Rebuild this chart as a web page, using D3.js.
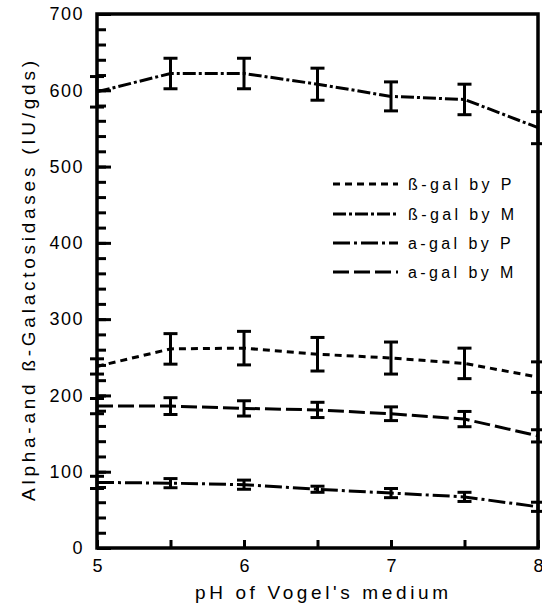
<!DOCTYPE html>
<html>
<head>
<meta charset="utf-8">
<script src="https://cdn.jsdelivr.net/npm/d3@7"></script>
<style>
  body { margin: 0; background: #fff; }
  svg { display: block; font-family: "Liberation Sans", Arial, sans-serif; }
</style>
</head>
<body>
<svg id="chart" width="542" height="603"></svg>
<script>
// ---- data ----
const phValues = [5, 5.5, 6, 6.5, 7, 7.5, 8];

const betaGalM    = [598, 622, 622, 608, 592, 588, 551];
const betaGalMErr = [20, 20, 20, 21, 19, 20, 21];

const betaGalP    = [238, 261, 262, 254, 249, 242, 224];
const betaGalPErr = [10, 20, 22, 22, 21, 20, 20];

const alphaGalM    = [186, 186, 183, 181, 176, 169, 147];
const alphaGalMErr = [10, 11, 10, 10, 9, 10, 8];

const alphaGalP    = [86, 85, 83, 77, 72, 67, 54];
const alphaGalPErr = [8, 6, 6, 4, 6, 6, 6];

const seriesNames = ["ß-gal by P", "ß-gal by M", "a-gal by P", "a-gal by M"];
const xTickLabels = [5, 6, 7, 8];
const yTickLabels = [0, 100, 200, 300, 400, 500, 600, 700];

// dash styles per series
const DASHES = {
  "ß-gal by P": "7,5",
  "ß-gal by M": "13,3,3,3",
  "a-gal by P": "17,4,3,4",
  "a-gal by M": "16,5"
};

const series = [
  { name: "ß-gal by M", vals: betaGalM,  err: betaGalMErr },
  { name: "ß-gal by P", vals: betaGalP,  err: betaGalPErr },
  { name: "a-gal by M", vals: alphaGalM, err: alphaGalMErr },
  { name: "a-gal by P", vals: alphaGalP, err: alphaGalPErr }
];

const svg = d3.select("#chart");
const plotL = 97, plotR = 538, plotT = 14, plotB = 548;

const x = d3.scaleLinear().domain([5, 8]).range([plotL, plotR]);
const y = d3.scaleLinear().domain([0, 700]).range([plotB, plotT]);

// ---- axes (ticks point inward) ----
const yMinor = svg.append("g")
  .attr("transform", `translate(${plotL},0)`)
  .call(d3.axisLeft(y).tickValues(d3.range(0, 701, 20)).tickSize(-9).tickFormat(""));
yMinor.select(".domain").remove();
yMinor.selectAll("line").attr("stroke", "#000").attr("stroke-width", 3);

const yMajor = svg.append("g")
  .attr("transform", `translate(${plotL},0)`)
  .call(d3.axisLeft(y).tickValues(yTickLabels).tickSize(-14).tickPadding(13));
yMajor.select(".domain").remove();
yMajor.selectAll("line").attr("stroke", "#000").attr("stroke-width", 3);
yMajor.selectAll("text")
  .attr("font-size", 18)
  .attr("fill", "#000")
  .style("letter-spacing", "1.5px")
  .style("font-family", "'Liberation Sans', Arial, sans-serif");

const xMinor = svg.append("g")
  .attr("transform", `translate(0,${plotB})`)
  .call(d3.axisBottom(x).tickValues(phValues).tickSize(-8).tickFormat(""));
xMinor.select(".domain").remove();
xMinor.selectAll("line").attr("stroke", "#000").attr("stroke-width", 3);

const xLab = svg.append("g")
  .attr("transform", `translate(0,${plotB})`)
  .call(d3.axisBottom(x).tickValues(xTickLabels).tickSize(0).tickPadding(11).tickFormat(d3.format("d")));
xLab.select(".domain").remove();
xLab.selectAll("text")
  .attr("font-size", 18)
  .attr("fill", "#000")
  .style("font-family", "'Liberation Sans', Arial, sans-serif");

// frame
svg.append("rect")
  .attr("x", plotL).attr("y", plotT)
  .attr("width", plotR - plotL).attr("height", plotB - plotT)
  .attr("fill", "none").attr("stroke", "#000").attr("stroke-width", 3.5);

// ---- lines ----
const line = d3.line()
  .x((d, i) => x(phValues[i]))
  .y(d => y(d));

svg.selectAll(".series")
  .data(series)
  .join("path")
  .attr("class", "series")
  .attr("d", d => line(d.vals))
  .attr("fill", "none")
  .attr("stroke", "#000")
  .attr("stroke-width", 3)
  .attr("stroke-dasharray", d => DASHES[d.name]);

// ---- error bars ----
const capW = 7;
series.forEach(s => {
  const g = svg.append("g").attr("stroke", "#000").attr("stroke-width", 3);
  s.vals.forEach((v, i) => {
    const cx = x(phValues[i]);
    const y1 = y(v + s.err[i]), y2 = y(v - s.err[i]);
    g.append("line").attr("x1", cx).attr("x2", cx).attr("y1", y1).attr("y2", y2);
    g.append("line").attr("x1", cx - capW).attr("x2", cx + capW).attr("y1", y1).attr("y2", y1);
    g.append("line").attr("x1", cx - capW).attr("x2", cx + capW).attr("y1", y2).attr("y2", y2);
  });
});

// ---- legend ----
const legendY = [184, 214, 243, 272];
const legend = svg.selectAll(".legend-item")
  .data(seriesNames)
  .join("g")
  .attr("class", "legend-item")
  .attr("transform", (d, i) => `translate(333,${legendY[i]})`);

legend.append("line")
  .attr("x1", 0).attr("x2", 65)
  .attr("stroke", "#000").attr("stroke-width", 3)
  .attr("stroke-dasharray", d => DASHES[d]);

legend.append("text")
  .attr("x", 75).attr("y", 6)
  .attr("font-size", 16)
  .style("letter-spacing", "3.4px")
  .text(d => d);

// ---- axis titles ----
svg.append("text")
  .attr("x", 195).attr("y", 599)
  .attr("font-size", 19)
  .attr("textLength", 253)
  .attr("lengthAdjust", "spacing")
  .text("pH of Vogel's medium");

svg.append("text")
  .attr("transform", `translate(35,${(plotT + plotB) / 2}) rotate(-90)`)
  .attr("text-anchor", "middle")
  .attr("font-size", 19)
  .attr("textLength", 440)
  .attr("lengthAdjust", "spacing")
  .text("Alpha-and ß-Galactosidases (IU/gds)");
</script>
</body>
</html>
